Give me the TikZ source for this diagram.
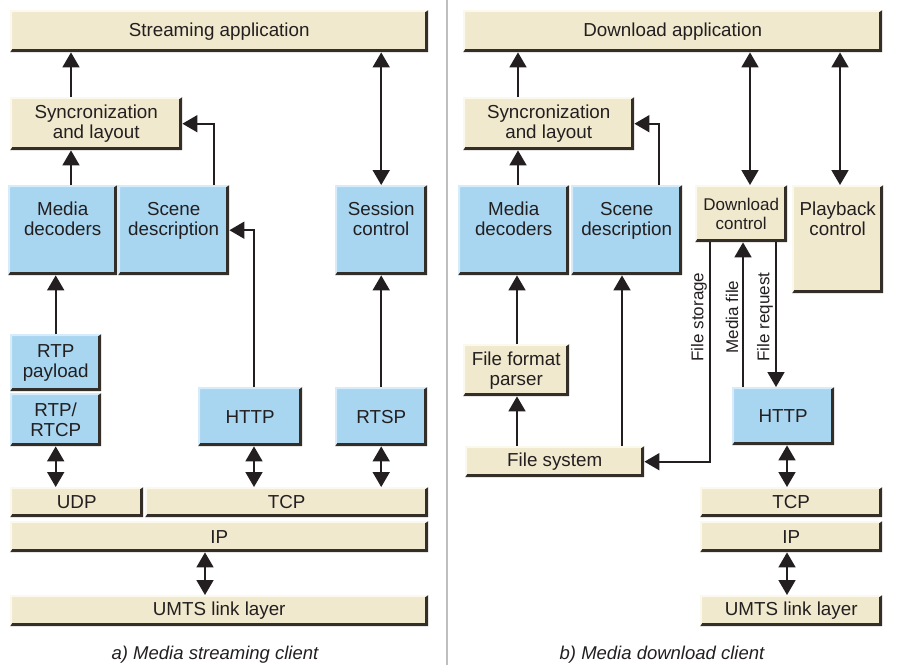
\documentclass[tikz,border=0pt]{standalone}
\usepackage{fontspec}
\setmainfont{Liberation Sans}
\usetikzlibrary{arrows.meta}

\definecolor{beigefill}{RGB}{240,233,206}
\definecolor{beigehi}{RGB}{251,248,236}
\definecolor{bluefill}{RGB}{168,213,240}
\definecolor{bluehi}{RGB}{214,236,250}
\definecolor{edgedark}{RGB}{52,46,40}
\definecolor{linec}{RGB}{35,31,32}
\definecolor{rulegrey}{RGB}{190,190,190}

\tikzset{
  x=1pt, y=-1pt,
  blk/.style={draw=none, inner sep=0pt, anchor=north west, align=center,
    text=linec, font={\fontsize{18.8}{20}\selectfont}},
  bevel/.style 2 args={fill=#1, path picture={
    \fill[#2] (path picture bounding box.north west)
      -- (path picture bounding box.north east)
      -- ([xshift=-3pt,yshift=-2pt]path picture bounding box.north east)
      -- ([xshift=2pt,yshift=-2pt]path picture bounding box.north west)
      -- ([xshift=2pt,yshift=3pt]path picture bounding box.south west)
      -- (path picture bounding box.south west) -- cycle;
    \fill[edgedark] (path picture bounding box.north east)
      -- (path picture bounding box.south east)
      -- (path picture bounding box.south west)
      -- ([xshift=2pt,yshift=3pt]path picture bounding box.south west)
      -- ([xshift=-3pt,yshift=3pt]path picture bounding box.south east)
      -- ([xshift=-3pt,yshift=-2pt]path picture bounding box.north east) -- cycle;
  }},
  paleblk/.style={bevel={beigefill}{beigehi}},
  blueblk/.style={bevel={bluefill}{bluehi}},
  tip/.tip={Triangle[width=17pt,length=15pt]},
  arr/.style={line width=1.8pt, draw=linec, -tip},
  darr/.style={line width=1.8pt, draw=linec, tip-tip},
  vlabel/.style={rotate=90, inner sep=0pt, text=linec,
    font={\fontsize{17}{19}\selectfont}},
  caption/.style={inner sep=0pt, text=linec,
    font={\fontsize{18.5}{20}\selectfont\itshape}},
}

% box: name, style, x1, y1, x2, y2, text
\newcommand\layerbox[7]{%
  \pgfmathsetmacro\lbw{#5-#3}\pgfmathsetmacro\lbh{#6-#4}%
  \node[blk,#2,minimum width=\lbw pt,minimum height=\lbh pt] (#1) at (#3,#4) {#7};}
% text set towards the top of a tall box
\newcommand\toptext[3]{\begin{tabular}{@{}c@{}}#1\\#2\\[#3]\end{tabular}}

\begin{document}
\begin{tikzpicture}
\useasboundingbox (0,0) rectangle (904,665);

% panel divider
\draw[rulegrey, line width=2pt] (447,0) -- (447,665);

% ---- a) streaming client ----
\layerbox{sapp}{paleblk}{10}{10}{428}{52}{Streaming application}
\layerbox{sync1}{paleblk}{10}{97}{182}{150}{Syncronization\\and layout}
\layerbox{mdec1}{blueblk}{8}{185}{117}{275}{\toptext{Media}{decoders}{18pt}}
\layerbox{scene1}{blueblk}{118}{185}{229}{275}{\toptext{Scene}{description}{18pt}}
\layerbox{sess}{blueblk}{335}{185}{427}{275}{\toptext{Session}{control}{18pt}}
\layerbox{rtpp}{blueblk}{10}{334}{101}{391}{RTP\\payload}
\layerbox{rtcp}{blueblk}{10}{393}{101}{446}{RTP/\\RTCP}
\layerbox{http1}{blueblk}{198}{387}{302}{446}{HTTP}
\layerbox{rtsp}{blueblk}{335}{387}{427}{446}{RTSP}
\layerbox{udp}{paleblk}{10}{487}{143}{517}{UDP}
\layerbox{tcp1}{paleblk}{145}{487}{428}{517}{TCP}
\layerbox{ip1}{paleblk}{10}{521}{428}{552}{IP}
\layerbox{umts1}{paleblk}{10}{595}{428}{626}{UMTS link layer}

\draw[arr] (sync1.north -| 71,0) -- (sapp.south -| 71,0);
\draw[arr] (mdec1.north -| 71,0) -- (sync1.south -| 71,0);
\draw[arr] (scene1.north -| 214,0) |- (sync1.east);
\draw[arr] (http1.north -| 254,0) |- (scene1.east);
\draw[arr] (rtpp.north) -- (mdec1.south -| rtpp.north);
\draw[arr] (rtsp.north) -- (sess.south -| rtsp.north);
\draw[darr] (sess.north) -- (sapp.south -| sess.north);
\draw[darr] (rtcp.south) -- (udp.north -| rtcp.south);
\draw[darr] (http1.south -| 254,0) -- (tcp1.north -| 254,0);
\draw[darr] (rtsp.south) -- (tcp1.north -| rtsp.south);
\draw[darr] (ip1.south -| 205,0) -- (umts1.north -| 205,0);

\node[caption] (capa) at (215,655) {a) Media streaming client};

% ---- b) download client ----
\layerbox{dapp}{paleblk}{463}{10}{882}{52}{Download application}
\layerbox{sync2}{paleblk}{463}{97}{634}{150}{Syncronization\\and layout}
\layerbox{mdec2}{blueblk}{458}{185}{569}{275}{\toptext{Media}{decoders}{18pt}}
\layerbox{scene2}{blueblk}{571}{185}{682}{275}{\toptext{Scene}{description}{18pt}}
\layerbox{dctl}{paleblk,font={\fontsize{17}{19}\selectfont}}{695}{185}{787}{242}{Download\\control}
\layerbox{pctl}{paleblk}{792}{185}{883}{293}{\toptext{Playback}{control}{36pt}}
\layerbox{ffp}{paleblk}{463}{344}{569}{396}{File format\\parser}
\layerbox{fsys}{paleblk}{465}{446}{644}{477}{File system}
\layerbox{http2}{blueblk}{732}{387}{834}{445}{HTTP}
\layerbox{tcp2}{paleblk}{700}{487}{882}{517}{TCP}
\layerbox{ip2}{paleblk}{700}{521}{882}{552}{IP}
\layerbox{umts2}{paleblk}{700}{595}{882}{626}{UMTS link layer}

\draw[arr] (sync2.north -| 518,0) -- (dapp.south -| 518,0);
\draw[arr] (mdec2.north -| 518,0) -- (sync2.south -| 518,0);
\draw[arr] (scene2.north -| 659,0) |- (sync2.east);
\draw[darr] (dctl.north -| 750,0) -- (dapp.south -| 750,0);
\draw[darr] (pctl.north -| 840,0) -- (dapp.south -| 840,0);
\draw[arr] (ffp.north -| 517,0) -- (mdec2.south -| 517,0);
\draw[arr] (fsys.north -| 517,0) -- (ffp.south -| 517,0);
\draw[arr] (fsys.north -| 622,0) -- (scene2.south -| 622,0);
\draw[arr] (dctl.south -| 710,0) |- (fsys.east);
\draw[arr] (http2.north -| 743,0) -- (dctl.south -| 743,0);
\draw[arr] (dctl.south -| 776,0) -- (http2.north -| 776,0);
\draw[darr] (http2.south -| 787,0) -- (tcp2.north -| 787,0);
\draw[darr] (ip2.south -| 787,0) -- (umts2.north -| 787,0);

\node[vlabel] (lstore) at (699,317) {File storage};
\node[vlabel] (lmedia) at (732,317) {Media file};
\node[vlabel] (lreq) at (765,317) {File request};

\node[caption] (capb) at (662,655) {b) Media download client};
\end{tikzpicture}
\end{document}
